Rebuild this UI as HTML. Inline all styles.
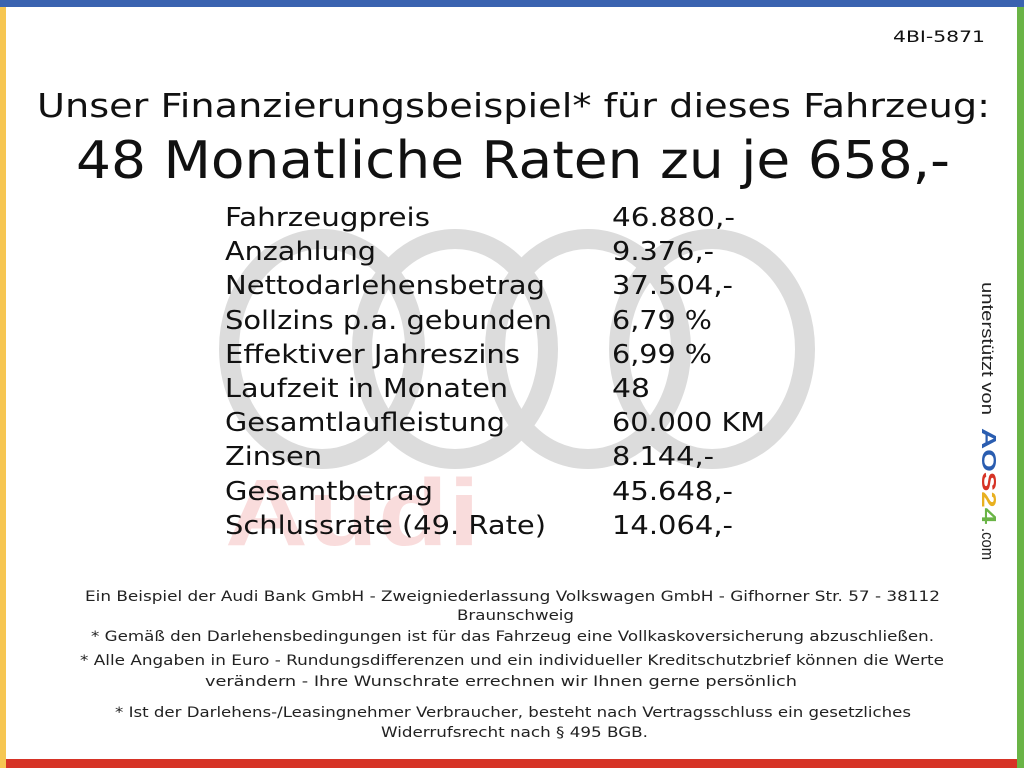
<!DOCTYPE html>
<html><head><meta charset="utf-8"><style>
html,body{margin:0;padding:0;background:#fff;}
svg{display:block;}
</style></head><body>
<svg width="1024" height="768" viewBox="0 0 1024 768" xmlns="http://www.w3.org/2000/svg">
<rect width="1024" height="768" fill="#fff"/>
<rect x="0" y="0" width="1024" height="7" fill="#3a63b0"/>
<rect x="0" y="7" width="6" height="761" fill="#f6c652"/>
<rect x="1017" y="7" width="7" height="761" fill="#6ab446"/>
<rect x="6" y="759" width="1011" height="9" fill="#d63326"/>
<g fill="none" stroke="#dcdcdc" stroke-width="20">
<ellipse cx="322" cy="349" rx="93" ry="110"/>
<ellipse cx="455" cy="349" rx="93" ry="110"/>
<ellipse cx="588" cy="349" rx="93" ry="110"/>
<ellipse cx="712" cy="349" rx="93" ry="110"/>
</g>
<text x="225" y="545" font-family="Liberation Sans, sans-serif" font-weight="bold" font-size="95" fill="#f9dcdc" textLength="255" lengthAdjust="spacingAndGlyphs">Audi</text>
<g font-family="'DejaVu Sans', sans-serif" fill="#111">
<text x="893" y="42" font-size="16" textLength="92" lengthAdjust="spacingAndGlyphs">4BI-5871</text>
<text x="37" y="117" font-size="33" textLength="953" lengthAdjust="spacingAndGlyphs">Unser Finanzierungsbeispiel* für dieses Fahrzeug:</text>
<text x="76" y="178" font-size="52" textLength="874" lengthAdjust="spacingAndGlyphs">48 Monatliche Raten zu je 658,-</text>
<g font-size="26">
<text x="225" y="226" textLength="205" lengthAdjust="spacingAndGlyphs">Fahrzeugpreis</text><text x="612" y="226" textLength="123" lengthAdjust="spacingAndGlyphs">46.880,-</text>
<text x="225" y="260" textLength="151" lengthAdjust="spacingAndGlyphs">Anzahlung</text><text x="612" y="260" textLength="102" lengthAdjust="spacingAndGlyphs">9.376,-</text>
<text x="225" y="294" textLength="320" lengthAdjust="spacingAndGlyphs">Nettodarlehensbetrag</text><text x="612" y="294" textLength="121" lengthAdjust="spacingAndGlyphs">37.504,-</text>
<text x="225" y="329" textLength="327" lengthAdjust="spacingAndGlyphs">Sollzins p.a. gebunden</text><text x="612" y="329" textLength="100" lengthAdjust="spacingAndGlyphs">6,79 %</text>
<text x="225" y="363" textLength="295" lengthAdjust="spacingAndGlyphs">Effektiver Jahreszins</text><text x="612" y="363" textLength="100" lengthAdjust="spacingAndGlyphs">6,99 %</text>
<text x="225" y="397" textLength="283" lengthAdjust="spacingAndGlyphs">Laufzeit in Monaten</text><text x="612" y="397" textLength="38" lengthAdjust="spacingAndGlyphs">48</text>
<text x="225" y="431" textLength="280" lengthAdjust="spacingAndGlyphs">Gesamtlaufleistung</text><text x="612" y="431" textLength="153" lengthAdjust="spacingAndGlyphs">60.000 KM</text>
<text x="225" y="465" textLength="97" lengthAdjust="spacingAndGlyphs">Zinsen</text><text x="612" y="465" textLength="102" lengthAdjust="spacingAndGlyphs">8.144,-</text>
<text x="225" y="500" textLength="208" lengthAdjust="spacingAndGlyphs">Gesamtbetrag</text><text x="612" y="500" textLength="121" lengthAdjust="spacingAndGlyphs">45.648,-</text>
<text x="225" y="534" textLength="321" lengthAdjust="spacingAndGlyphs">Schlussrate (49. Rate)</text><text x="612" y="534" textLength="121" lengthAdjust="spacingAndGlyphs">14.064,-</text>
</g>
<g font-size="14" fill="#222">
<text x="85" y="601" textLength="855" lengthAdjust="spacingAndGlyphs">Ein Beispiel der Audi Bank GmbH - Zweigniederlassung Volkswagen GmbH - Gifhorner Str. 57 - 38112</text>
<text x="457" y="620" textLength="117" lengthAdjust="spacingAndGlyphs">Braunschweig</text>
<text x="91" y="641" textLength="843" lengthAdjust="spacingAndGlyphs">* Gemäß den Darlehensbedingungen ist für das Fahrzeug eine Vollkaskoversicherung abzuschließen.</text>
<text x="80" y="665" textLength="864" lengthAdjust="spacingAndGlyphs">* Alle Angaben in Euro - Rundungsdifferenzen und ein individueller Kreditschutzbrief können die Werte</text>
<text x="205" y="686" textLength="592" lengthAdjust="spacingAndGlyphs">verändern - Ihre Wunschrate errechnen wir Ihnen gerne persönlich</text>
<text x="115" y="717" textLength="796" lengthAdjust="spacingAndGlyphs">* Ist der Darlehens-/Leasingnehmer Verbraucher, besteht nach Vertragsschluss ein gesetzliches</text>
<text x="381" y="737" textLength="267" lengthAdjust="spacingAndGlyphs">Widerrufsrecht nach § 495 BGB.</text>
</g>
</g>
<g transform="translate(982,282) rotate(90)" font-family="Liberation Sans, sans-serif" font-size="17">
<text x="0" y="0" fill="#222" textLength="133" lengthAdjust="spacingAndGlyphs">unterstützt von</text>
<text x="146" y="0" font-weight="bold" font-size="20" textLength="96" lengthAdjust="spacingAndGlyphs"><tspan fill="#2a5db0">AO</tspan><tspan fill="#d63326">S</tspan><tspan fill="#e8b020">2</tspan><tspan fill="#6ab446">4</tspan></text>
<text x="246" y="0" fill="#222" textLength="32" lengthAdjust="spacingAndGlyphs">.com</text>
</g>
</svg>
</body></html>
